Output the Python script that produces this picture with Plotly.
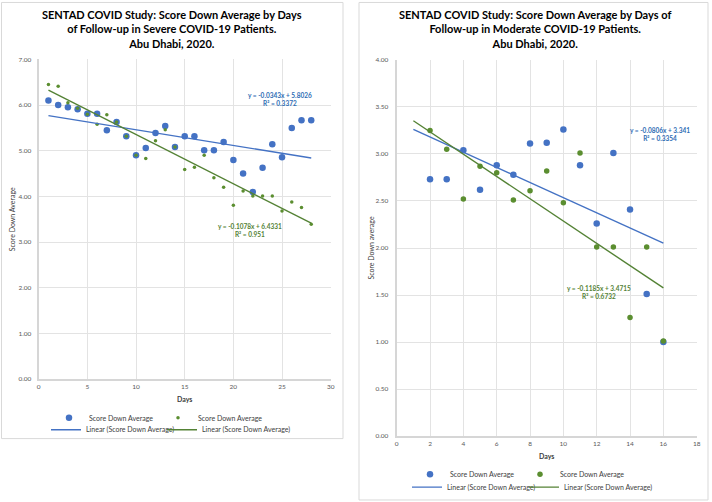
import plotly.graph_objects as go

W, H = 712, 502

# ---------------- data ----------------
severe_days = list(range(1, 29))
severe_blue = [6.10, 6.00, 5.95, 5.91, 5.81, 5.81, 5.45, 5.63, 5.32, 4.90,
               5.06, 5.39, 5.54, 5.08, 5.32, 5.32, 5.01, 5.01, 5.19, 4.80,
               4.50, 4.10, 4.63, 5.14, 4.86, 5.50, 5.67, 5.67]
severe_green = [6.45, 6.41, 6.05, 5.93, 5.80, 5.58, 5.79, 5.63, 5.32, 4.90,
                4.83, 5.22, 5.46, 5.08, 4.59, 4.64, 4.90, 4.41, 4.20, 3.81,
                4.12, 4.01, 4.01, 4.01, 3.68, 3.88, 3.76, 3.39]
severe_trend_days = [1, 28]
severe_blue_fit = (-0.0343, 5.8026, 0.3372)
severe_green_fit = (-0.1078, 6.4331, 0.951)

moderate_days = list(range(2, 17))
moderate_blue = [2.73, 2.73, 3.04, 2.62, 2.88, 2.78, 3.11, 3.12, 3.26, 2.88,
                 2.26, 3.01, 2.41, 1.51, 1.00]
moderate_green = [3.25, 3.05, 2.52, 2.87, 2.80, 2.51, 2.61, 2.82, 2.48, 3.01,
                  2.01, 2.01, 1.26, 2.01, 1.01]
moderate_trend_days = [1, 16]
moderate_blue_fit = (-0.0806, 3.341, 0.3354)
moderate_green_fit = (-0.1185, 3.4715, 0.6732)

series_name = "Score Down Average"
trend_name = "Linear (Score Down Average)"
titles = [
    "SENTAD COVID Study: Score Down Average by Days<br>of Follow-up in Severe COVID-19 Patients.<br>Abu Dhabi, 2020.",
    "SENTAD COVID Study: Score Down Average by Days of<br>Follow-up in Moderate COVID-19 Patients.<br>Abu Dhabi, 2020.",
]

BLUE = "#4472C4"
GREEN = "#5B8E30"
GREEN_LINE = "#548235"
FONT = "Lato"
TXT = "#404040"


def px(x):
    return x / W


def py(y):
    return 1 - y / H


def trend(days, fit):
    return [fit[0] * d + fit[1] for d in days]


def eq_text(fit):
    return f"y = {fit[0]}x + {fit[1]}<br>R² = {fit[2]}"


fig = go.Figure()

# ---- Severe panel ----
fig.add_trace(go.Scatter(x=severe_days, y=severe_blue, mode="markers", name=series_name,
                         marker=dict(color=BLUE, size=6.5), xaxis="x", yaxis="y", legend="legend"))
fig.add_trace(go.Scatter(x=severe_days, y=severe_green, mode="markers", name=series_name,
                         marker=dict(color=GREEN, size=3.5), xaxis="x", yaxis="y", legend="legend2"))
fig.add_trace(go.Scatter(x=severe_trend_days, y=trend(severe_trend_days, severe_blue_fit), mode="lines",
                         name=trend_name, line=dict(color=BLUE, width=1.4), xaxis="x", yaxis="y",
                         legend="legend3"))
fig.add_trace(go.Scatter(x=severe_trend_days, y=trend(severe_trend_days, severe_green_fit), mode="lines",
                         name=trend_name, line=dict(color=GREEN_LINE, width=1.4), xaxis="x", yaxis="y",
                         legend="legend4"))

# ---- Moderate panel ----
fig.add_trace(go.Scatter(x=moderate_days, y=moderate_blue, mode="markers", name=series_name,
                         marker=dict(color=BLUE, size=6.5), xaxis="x2", yaxis="y2", legend="legend5"))
fig.add_trace(go.Scatter(x=moderate_days, y=moderate_green, mode="markers", name=series_name,
                         marker=dict(color=GREEN, size=5.5), xaxis="x2", yaxis="y2", legend="legend6"))
fig.add_trace(go.Scatter(x=moderate_trend_days, y=trend(moderate_trend_days, moderate_blue_fit), mode="lines",
                         name=trend_name, line=dict(color=BLUE, width=1.4), xaxis="x2", yaxis="y2",
                         legend="legend7"))
fig.add_trace(go.Scatter(x=moderate_trend_days, y=trend(moderate_trend_days, moderate_green_fit), mode="lines",
                         name=trend_name, line=dict(color=GREEN_LINE, width=1.4), xaxis="x2", yaxis="y2",
                         legend="legend8"))

axis_common = dict(showgrid=True, gridcolor="#E3E3E3", gridwidth=1, showline=True,
                   linecolor="#D6D6D6", linewidth=2, zeroline=False, ticks="", automargin=False,
                   tickfont=dict(family=FONT, size=6.5, color="#595959"), fixedrange=True)

fig.update_layout(
    width=W, height=H,
    margin=dict(l=0, r=0, t=0, b=0),
    paper_bgcolor="white", plot_bgcolor="white",
    font=dict(family=FONT, color=TXT),
    xaxis=dict(domain=[px(38.7), px(330.7)], range=[0, 30], dtick=5, anchor="y",
               title=dict(text="<b>Days</b>", font=dict(size=7, color=TXT), standoff=8), **axis_common),
    yaxis=dict(domain=[py(383), py(60)], range=[0, 7], dtick=1, tickformat=".2f", anchor="x",
               ticklabelstandoff=4,
               title=dict(text="Score Down Average", font=dict(size=7, color=TXT), standoff=2), **axis_common),
    xaxis2=dict(domain=[px(396.7), px(696.7)], range=[0, 18], dtick=2, anchor="y2",
                title=dict(text="<b>Days</b>", font=dict(size=7, color=TXT), standoff=8), **axis_common),
    yaxis2=dict(domain=[py(440.5), py(60.5)], range=[0, 4], dtick=0.5, tickformat=".2f", anchor="x2",
                ticklabelstandoff=5,
                title=dict(text="Score Down average", font=dict(size=7, color=TXT), standoff=0), **axis_common),
    showlegend=True,
)

# one legend per entry so each can be placed like the original two-row legends
legend_pos = {
    "legend": (49, 422), "legend2": (158, 422), "legend3": (46, 434), "legend4": (162, 434),
    "legend5": (410, 479), "legend6": (520, 479), "legend7": (407, 492), "legend8": (524, 492),
}
for key, (lx, ly) in legend_pos.items():
    fig.layout[key] = dict(x=px(lx), y=py(ly), xanchor="left", yanchor="middle",
                           orientation="h", bgcolor="rgba(0,0,0,0)", borderwidth=0,
                           font=dict(family=FONT, size=7, color=TXT), itemwidth=30)

ann = dict(showarrow=False, xref="paper", yref="paper", xanchor="center", yanchor="middle")
annotations = [
    dict(x=px(172), y=py(29), text="<b>" + titles[0] + "</b>",
         font=dict(family=FONT, size=11, color="#000000"), **ann),
    dict(x=px(535), y=py(29), text="<b>" + titles[1] + "</b>",
         font=dict(family=FONT, size=11, color="#000000"), **ann),
    dict(x=px(280), y=py(100), text="<b>" + eq_text(severe_blue_fit) + "</b>",
         font=dict(family=FONT, size=6.5, color="#2E6DB4"), **ann),
    dict(x=px(250), y=py(233), text="<b>" + eq_text(severe_green_fit) + "</b>",
         font=dict(family=FONT, size=6.5, color=GREEN_LINE), **ann),
    dict(x=px(660), y=py(136), text="<b>" + eq_text(moderate_blue_fit) + "</b>",
         font=dict(family=FONT, size=6.5, color="#2E6DB4"), **ann),
    dict(x=px(599), y=py(295), text="<b>" + eq_text(moderate_green_fit) + "</b>",
         font=dict(family=FONT, size=6.5, color=GREEN_LINE), **ann),
]
fig.update_layout(annotations=annotations)

shapes = [
    dict(type="rect", xref="paper", yref="paper", x0=px(1.5), x1=px(343), y0=py(443), y1=py(2.5),
         line=dict(color="#D9D9D9", width=1), fillcolor="rgba(0,0,0,0)", layer="below"),
    dict(type="rect", xref="paper", yref="paper", x0=px(359), x1=px(708), y0=py(505), y1=py(2.5),
         line=dict(color="#D9D9D9", width=1), fillcolor="rgba(0,0,0,0)", layer="below"),
]
fig.update_layout(shapes=shapes)

fig.write_html("out.html", config={"displayModeBar": False},
               post_script="document.body.style.margin='0';document.body.style.overflow='hidden';")
